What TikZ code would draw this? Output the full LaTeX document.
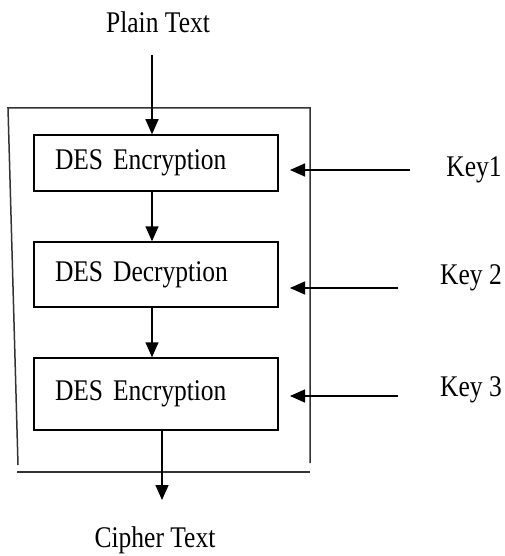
\documentclass[tikz,border=0pt]{standalone}
\usepackage{fontspec}
\setmainfont{Liberation Serif}[FakeStretch=0.85]
\usetikzlibrary{arrows.meta}
\begin{document}
\begin{tikzpicture}[x=1pt,y=-1pt,>={Triangle[length=15pt,width=13pt]},
    every node/.style={font=\fontsize{30}{33}\selectfont}]
      \useasboundingbox (0,0) rectangle (505,556);
      \def \Stages{
        enc1/163/56/DES Encryption,
        dec/274.5/65/DES Decryption,
        enc2/394/72/DES Encryption}
      \def \Keys{
        k1/474/170/170/410/Key1,
        k2/471/278/288/398/Key 2,
        k3/471/390/396/398/Key 3}
      \foreach \id / \y / \h / \txt in \Stages{
        \node[draw,line width=1.5pt,minimum width=244pt,minimum height=\h pt,
          text width=202pt,inner xsep=21pt,align=left] (\id) at (156,\y) {\txt};
      }
      % outer frame
      \draw[line width=1.5pt,black!80] (18,465) -- (8,108) -- (310,108) -- (310,463);
      \draw[line width=1.5pt,black!80] (17,472) -- (310,472);
      \node (plain) at (158,22) {Plain Text};
      \node (cipher) at (155,540) {Cipher Text};
      \coordinate (pin) at (152,55);
      \coordinate (cout) at (162,500);
      \draw[->,line width=1.5pt] (pin) -- (pin |- enc1.north);
      \draw[->,line width=1.5pt] (enc1.south -| pin) -- (dec.north -| pin);
      \draw[->,line width=1.5pt] (dec.south -| pin) -- (enc2.north -| pin);
      \draw[->,line width=1.5pt] (enc2.south -| cout) -- (cout);
      \foreach \id / \tx / \ty / \ay / \x / \txt in \Keys{
        \node (\id) at (\tx,\ty) {\txt};
        \coordinate (\id s) at (\x,\ay);
        \coordinate (\id e) at (290,\ay);
        \path[draw,->,line width=1.5pt] (\id s) -- (\id e);
      }
    \end{tikzpicture}
\end{document}
